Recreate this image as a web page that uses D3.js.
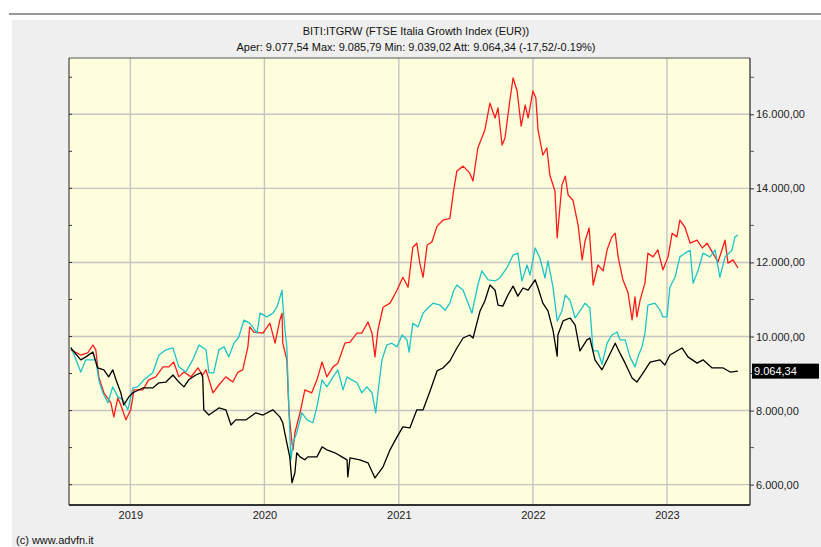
<!DOCTYPE html>
<html>
<head>
<meta charset="utf-8">
<script src="https://cdn.jsdelivr.net/npm/d3@7"></script>
<style>
  body { margin: 0; background: #fff; }
  svg { display: block; font-family: "Liberation Sans", Arial, sans-serif; }
</style>
</head>
<body>
<div id="chart"></div>
<script>
/* global d3 */

// BITI:ITGRW, black line
var itgrw = [
  ["2018-07-23", 9690], ["2018-08-19", 9370], ["2018-09-02", 9450], ["2018-09-21", 9580], ["2018-10-04", 9150],
  ["2018-10-21", 9100], ["2018-11-03", 8910], ["2018-11-14", 9100], ["2018-11-23", 8830], ["2018-12-06", 8480],
  ["2018-12-14", 8150], ["2018-12-28", 8370], ["2019-01-08", 8480], ["2019-02-04", 8610], ["2019-03-03", 8610],
  ["2019-03-20", 8750], ["2019-04-08", 8770], ["2019-04-27", 8960], ["2019-05-13", 8770], ["2019-05-27", 8640],
  ["2019-06-09", 8830], ["2019-06-28", 8960], ["2019-07-12", 9020], ["2019-07-17", 8910], ["2019-07-20", 8020],
  ["2019-08-03", 7880], ["2019-08-30", 8070], ["2019-09-18", 8020], ["2019-10-02", 7610], ["2019-10-15", 7750],
  ["2019-11-12", 7750], ["2019-12-09", 7940], ["2019-12-28", 7880], ["2020-01-24", 8020], ["2020-02-12", 7830],
  ["2020-02-20", 7670], ["2020-03-02", 7130], ["2020-03-10", 6750], ["2020-03-16", 6050], ["2020-03-24", 6320],
  ["2020-03-29", 6860], ["2020-04-07", 6750], ["2020-04-20", 6670], ["2020-04-28", 6750], ["2020-05-23", 6750],
  ["2020-06-06", 7020], ["2020-06-19", 6940], ["2020-07-11", 6860], ["2020-07-30", 6750], ["2020-08-13", 6670],
  ["2020-08-15", 6210], ["2020-08-21", 6720], ["2020-09-17", 6670], ["2020-10-09", 6590], ["2020-10-28", 6180],
  ["2020-11-19", 6480], ["2020-12-08", 6940], ["2020-12-27", 7290], ["2021-01-12", 7560], ["2021-01-31", 7530],
  ["2021-02-19", 8020], ["2021-03-08", 8020], ["2021-03-27", 8530], ["2021-04-15", 9070], ["2021-05-01", 9150],
  ["2021-05-20", 9340], ["2021-06-08", 9690], ["2021-06-25", 9960], ["2021-07-13", 10040], ["2021-07-22", 9960],
  ["2021-08-10", 10690], ["2021-08-23", 10960], ["2021-09-06", 11390], ["2021-09-20", 11250], ["2021-09-28", 10850],
  ["2021-10-11", 10820], ["2021-10-25", 11120], ["2021-11-08", 11360], ["2021-11-21", 11090], ["2021-12-05", 11310],
  ["2021-12-19", 11250], ["2022-01-07", 11530], ["2022-01-15", 11310], ["2022-01-28", 10900], ["2022-02-11", 10690],
  ["2022-02-25", 10150], ["2022-03-08", 9470], ["2022-03-10", 10040], ["2022-03-24", 10420], ["2022-04-12", 10500],
  ["2022-04-26", 10310], ["2022-05-09", 9610], ["2022-05-28", 9910], ["2022-06-05", 9960], ["2022-06-19", 9370],
  ["2022-07-08", 9100], ["2022-07-22", 9370], ["2022-08-13", 9820], ["2022-08-26", 9550], ["2022-09-09", 9280],
  ["2022-09-28", 8880], ["2022-10-11", 8770], ["2022-10-28", 9020], ["2022-11-16", 9310], ["2022-12-13", 9370],
  ["2022-12-26", 9230], ["2023-01-09", 9500], ["2023-02-11", 9690], ["2023-02-27", 9450], ["2023-03-24", 9280],
  ["2023-04-09", 9370], ["2023-05-04", 9150], ["2023-06-03", 9150], ["2023-06-22", 9040], ["2023-07-13", 9064.34]
];

// comparison, red line
var compRed = [
  ["2018-07-23", 9640], ["2018-08-19", 9500], ["2018-09-07", 9560], ["2018-09-21", 9770], ["2018-09-29", 9640],
  ["2018-10-07", 8910], ["2018-10-21", 8480], ["2018-11-09", 8210], ["2018-11-17", 7830], ["2018-11-28", 8340],
  ["2018-12-06", 8150], ["2018-12-20", 7750], ["2019-01-02", 8020], ["2019-01-11", 8560], ["2019-02-04", 8560],
  ["2019-02-20", 8830], ["2019-03-11", 8910], ["2019-03-31", 9180], ["2019-04-16", 9180], ["2019-04-29", 9310],
  ["2019-05-13", 8910], ["2019-05-27", 9040], ["2019-06-15", 8910], ["2019-07-04", 9150], ["2019-07-17", 8960],
  ["2019-07-26", 9100], ["2019-08-14", 8480], ["2019-08-30", 8690], ["2019-09-18", 8910], ["2019-10-07", 8770],
  ["2019-10-21", 9040], ["2019-11-03", 9100], ["2019-11-17", 9720], ["2019-11-22", 10260], ["2019-12-03", 10120],
  ["2019-12-28", 10090], ["2020-01-16", 10360], ["2020-01-30", 9820], ["2020-02-12", 10440], ["2020-02-18", 10630],
  ["2020-02-20", 9820], ["2020-03-02", 9370], ["2020-03-08", 7940], ["2020-03-16", 7130], ["2020-03-19", 6940],
  ["2020-03-24", 7400], ["2020-04-07", 7940], ["2020-04-20", 8560], ["2020-05-09", 8480], ["2020-05-23", 8830],
  ["2020-06-06", 9310], ["2020-06-19", 8910], ["2020-07-06", 9180], ["2020-07-19", 9280], ["2020-08-07", 9820],
  ["2020-08-21", 9850], ["2020-09-09", 10090], ["2020-09-22", 10090], ["2020-10-09", 10390], ["2020-10-20", 10090],
  ["2020-10-28", 9450], ["2020-11-05", 10170], ["2020-11-19", 10790], ["2020-12-08", 10900], ["2020-12-27", 11250],
  ["2021-01-12", 11600], ["2021-01-26", 11330], ["2021-02-08", 12410], ["2021-02-19", 12520], ["2021-02-27", 11980],
  ["2021-03-08", 11600], ["2021-03-19", 12470], ["2021-04-01", 12550], ["2021-04-15", 12980], ["2021-05-01", 13140],
  ["2021-05-20", 13190], ["2021-05-30", 13930], ["2021-06-08", 14470], ["2021-06-25", 14600], ["2021-07-13", 14410],
  ["2021-07-22", 14200], ["2021-08-04", 15090], ["2021-08-23", 15570], ["2021-09-06", 16300], ["2021-09-20", 15900],
  ["2021-09-28", 16170], ["2021-10-09", 15170], ["2021-10-17", 15360], ["2021-10-30", 16360], ["2021-11-08", 16980],
  ["2021-11-19", 16630], ["2021-11-30", 15680], ["2021-12-11", 16250], ["2021-12-19", 15900], ["2022-01-01", 16630],
  ["2022-01-09", 16440], ["2022-01-15", 15570], ["2022-01-28", 14900], ["2022-02-08", 15090], ["2022-02-16", 14360],
  ["2022-03-02", 13930], ["2022-03-08", 12660], ["2022-03-21", 14090], ["2022-03-30", 14330], ["2022-04-07", 13820],
  ["2022-04-20", 13680], ["2022-05-04", 13010], ["2022-05-15", 12070], ["2022-05-23", 12580], ["2022-06-03", 12930],
  ["2022-06-14", 11390], ["2022-06-27", 11930], ["2022-07-11", 11770], ["2022-07-22", 12340], ["2022-08-04", 12690],
  ["2022-08-13", 12790], ["2022-08-21", 12150], ["2022-09-03", 11530], ["2022-09-17", 11180], ["2022-09-28", 10450],
  ["2022-10-06", 11070], ["2022-10-11", 10530], ["2022-10-20", 10990], ["2022-11-02", 11440], ["2022-11-10", 12250],
  ["2022-11-24", 12150], ["2022-12-07", 12340], ["2022-12-21", 11800], ["2023-01-04", 12150], ["2023-01-15", 12790],
  ["2023-01-28", 12690], ["2023-02-05", 13140], ["2023-02-19", 12950], ["2023-03-05", 12520], ["2023-03-24", 12600],
  ["2023-04-07", 12390], ["2023-04-20", 12520], ["2023-05-06", 12250], ["2023-05-20", 12010], ["2023-06-08", 12600],
  ["2023-06-16", 11980], ["2023-06-30", 12070], ["2023-07-13", 11850]
];

// comparison, cyan line
var compCyan = [
  ["2018-07-23", 9720], ["2018-08-06", 9370], ["2018-08-19", 9040], ["2018-09-02", 9370], ["2018-09-15", 9370],
  ["2018-09-29", 9370], ["2018-10-07", 8830], ["2018-10-18", 8480], ["2018-11-01", 8210], ["2018-11-14", 8640],
  ["2018-11-28", 8370], ["2018-12-12", 8290], ["2018-12-25", 8020], ["2019-01-08", 8610], ["2019-01-21", 8640],
  ["2019-02-07", 8830], ["2019-03-03", 9020], ["2019-03-20", 9500], ["2019-04-08", 9640], ["2019-04-27", 9690],
  ["2019-05-13", 9180], ["2019-06-01", 9040], ["2019-06-20", 9370], ["2019-07-07", 9770], ["2019-07-26", 9640],
  ["2019-08-03", 9020], ["2019-08-16", 9020], ["2019-08-30", 9640], ["2019-09-13", 9720], ["2019-09-26", 9450],
  ["2019-10-10", 9820], ["2019-10-23", 9980], ["2019-11-06", 10440], ["2019-11-22", 10360], ["2019-12-12", 10090],
  ["2019-12-20", 10630], ["2020-01-08", 10530], ["2020-01-24", 10630], ["2020-02-04", 10790], ["2020-02-18", 11250],
  ["2020-02-20", 10900], ["2020-02-26", 10170], ["2020-03-02", 9720], ["2020-03-08", 7940], ["2020-03-13", 6670],
  ["2020-03-19", 7130], ["2020-03-29", 7400], ["2020-04-12", 7940], ["2020-04-26", 7750], ["2020-05-12", 7670],
  ["2020-05-23", 8100], ["2020-06-06", 8830], ["2020-06-19", 8640], ["2020-07-06", 8910], ["2020-07-19", 9100],
  ["2020-08-02", 8560], ["2020-08-13", 8910], ["2020-08-26", 8830], ["2020-09-09", 8750], ["2020-09-22", 8480],
  ["2020-10-06", 8640], ["2020-10-20", 8480], ["2020-10-30", 7940], ["2020-11-05", 8480], ["2020-11-16", 9370],
  ["2020-11-29", 9770], ["2020-12-13", 9820], ["2020-12-27", 9720], ["2021-01-10", 10040], ["2021-01-23", 9910],
  ["2021-01-29", 9580], ["2021-02-08", 10360], ["2021-02-22", 10260], ["2021-03-08", 10630], ["2021-03-21", 10770],
  ["2021-04-04", 10900], ["2021-04-23", 10850], ["2021-05-07", 10710], ["2021-05-20", 10900], ["2021-05-30", 11230],
  ["2021-06-08", 11390], ["2021-06-25", 11250], ["2021-07-19", 10630], ["2021-08-04", 11390], ["2021-08-15", 11770],
  ["2021-09-01", 11530], ["2021-09-20", 11500], ["2021-10-03", 11580], ["2021-10-22", 11850], ["2021-11-08", 12200],
  ["2021-11-21", 12250], ["2021-12-02", 11500], ["2021-12-16", 11930], ["2021-12-24", 11660], ["2022-01-07", 12390],
  ["2022-01-20", 12120], ["2022-02-03", 11580], ["2022-02-11", 12040], ["2022-02-25", 11310], ["2022-03-08", 10420],
  ["2022-03-21", 10690], ["2022-03-30", 11120], ["2022-04-12", 10980], ["2022-04-26", 10500], ["2022-05-09", 10690],
  ["2022-05-23", 10900], ["2022-06-05", 10770], ["2022-06-14", 9610], ["2022-06-27", 9610], ["2022-07-08", 9250],
  ["2022-07-22", 9820], ["2022-08-04", 10040], ["2022-08-18", 10120], ["2022-08-26", 9910], ["2022-09-09", 9910],
  ["2022-09-22", 9450], ["2022-10-06", 9180], ["2022-10-14", 9450], ["2022-10-25", 9720], ["2022-11-02", 10090],
  ["2022-11-10", 10850], ["2022-11-29", 10900], ["2022-12-13", 10710], ["2022-12-21", 10530], ["2023-01-01", 10530],
  ["2023-01-09", 11340], ["2023-01-23", 11600], ["2023-02-05", 12150], ["2023-02-19", 12250], ["2023-03-05", 12330],
  ["2023-03-13", 11440], ["2023-03-27", 11790], ["2023-04-09", 12250], ["2023-04-28", 12150], ["2023-05-12", 12330],
  ["2023-05-25", 11600], ["2023-06-08", 12150], ["2023-06-27", 12330], ["2023-07-05", 12690], ["2023-07-13", 12740]
];

var yearTicks = ["2019-01-01", "2020-01-01", "2021-01-01", "2022-01-01", "2023-01-01"];
var priceTicks = [6000, 8000, 10000, 12000, 14000, 16000];
var minorTicks = [6000, 7000, 8000, 9000, 10000, 11000, 12000, 13000, 14000, 15000, 16000, 17000];
var xDomain = ["2018-07-18", "2023-08-15"];
var yDomain = [5450, 17520];

var titleText = "BITI:ITGRW (FTSE Italia Growth Index (EUR))";
var statNames = ["Aper", "Max", "Min", "Att"];
var statValues = [9077.54, 9085.79, 9039.02, 9064.34];
var changeAbs = -17.52;
var changePct = -0.19;
var lastValue = 9064.34;

var WIDTH = 821, HEIGHT = 547;
var plot = { left: 69, top: 58, right: 750, bottom: 505 };

var itFmt = d3.formatLocale({ decimal: ",", thousands: ".", grouping: [3], currency: ["", ""], minus: "-" }).format(",.2f");
var pctFmt = d3.formatLocale({ decimal: ".", thousands: ",", grouping: [3], currency: ["", ""], minus: "-" }).format(".2f");
var parse = d3.utcParse("%Y-%m-%d");

var x = d3.scaleUtc().domain(xDomain.map(parse)).range([plot.left, plot.right]);
var y = d3.scaleLinear().domain(yDomain).range([plot.bottom, plot.top]);

var svg = d3.select('#chart').append('svg')
  .attr('width', WIDTH)
  .attr('height', HEIGHT);

// page frame
svg.append('rect').attr('x', 12).attr('y', 20).attr('width', WIDTH - 12).attr('height', HEIGHT - 20).attr('fill', '#efefef');
svg.append('rect').attr('x', 9).attr('y', 13).attr('width', WIDTH - 9).attr('height', 2).attr('fill', '#9a9a9a');

// titles
svg.append('text')
  .attr('x', 416).attr('y', 35)
  .attr('text-anchor', 'middle')
  .attr('font-size', '11px')
  .attr('fill', '#111')
  .text(titleText);

var statLine = statNames.map(function(n, i) { return n + ': ' + itFmt(statValues[i]); }).join(' ') +
  ' (' + itFmt(changeAbs) + '/' + pctFmt(changePct) + '%)';
svg.append('text')
  .attr('x', 416).attr('y', 51)
  .attr('text-anchor', 'middle')
  .attr('font-size', '11px')
  .attr('fill', '#111')
  .text(statLine);

// plot background
svg.append('rect')
  .attr('x', plot.left).attr('y', plot.top)
  .attr('width', plot.right - plot.left).attr('height', plot.bottom - plot.top)
  .attr('fill', '#fefedc');

// grid
var grid = svg.append('g').attr('stroke', '#c4c4c4').attr('stroke-width', 1.4);
grid.selectAll('line.h').data(priceTicks).enter().append('line')
  .attr('x1', plot.left).attr('x2', plot.right)
  .attr('y1', function(d) { return y(d); }).attr('y2', function(d) { return y(d); });
grid.selectAll('line.v').data(yearTicks.map(parse)).enter().append('line')
  .attr('y1', plot.top).attr('y2', plot.bottom)
  .attr('x1', function(d) { return x(d); }).attr('x2', function(d) { return x(d); });

// lines
svg.append('clipPath').attr('id', 'clip').append('rect')
  .attr('x', plot.left).attr('y', plot.top)
  .attr('width', plot.right - plot.left).attr('height', plot.bottom - plot.top);

var line = d3.line()
  .x(function(d) { return x(parse(d[0])); })
  .y(function(d) { return y(d[1]); });

var series = [
  { data: compRed, color: '#ff1a1a' },
  { data: compCyan, color: '#1cc4c8' },
  { data: itgrw, color: '#000000' }
];

svg.append('g').attr('clip-path', 'url(#clip)')
  .selectAll('path').data(series).enter().append('path')
  .attr('d', function(s) { return line(s.data); })
  .attr('fill', 'none')
  .attr('stroke', function(s) { return s.color; })
  .attr('stroke-width', 1.3)
  .attr('stroke-linejoin', 'round');

// frame lines
svg.append('line').attr('x1', plot.left).attr('x2', plot.right).attr('y1', plot.top).attr('y2', plot.top)
  .attr('stroke', '#555').attr('stroke-width', 1.2);
svg.append('line').attr('x1', plot.left).attr('x2', plot.left).attr('y1', plot.top).attr('y2', plot.bottom)
  .attr('stroke', '#444').attr('stroke-width', 1.2);
svg.append('line').attr('x1', plot.left).attr('x2', plot.right).attr('y1', plot.bottom).attr('y2', plot.bottom)
  .attr('stroke', '#333').attr('stroke-width', 2);

// left inner ticks
svg.append('g').selectAll('line').data(minorTicks.filter(function(d) { return y(d) > plot.top; })).enter().append('line')
  .attr('x1', plot.left).attr('x2', plot.left + 3)
  .attr('y1', function(d) { return y(d); }).attr('y2', function(d) { return y(d); })
  .attr('stroke', '#333');

// right axis
var yAxis = svg.append('g')
  .attr('transform', 'translate(' + plot.right + ',0)')
  .call(d3.axisRight(y).tickValues(priceTicks).tickFormat(itFmt).tickSize(4).tickPadding(2));
yAxis.select('.domain').attr('stroke', '#222').attr('stroke-width', 1.2).attr('d', 'M0,' + plot.top + 'V' + plot.bottom);
yAxis.selectAll('text').attr('font-size', '11px').attr('fill', '#222').attr('font-family', '"Liberation Sans", Arial, sans-serif');
yAxis.selectAll('line').attr('stroke', '#333');
yAxis.selectAll('line.minor').data(minorTicks.filter(function(d) { return priceTicks.indexOf(d) < 0 && y(d) > plot.top; }))
  .enter().append('line').attr('class', 'minor')
  .attr('x1', 0).attr('x2', 4)
  .attr('y1', function(d) { return y(d); }).attr('y2', function(d) { return y(d); })
  .attr('stroke', '#555');

// bottom axis labels
var xAxis = svg.append('g')
  .attr('transform', 'translate(0,' + plot.bottom + ')')
  .call(d3.axisBottom(x).tickValues(yearTicks.map(parse)).tickFormat(d3.utcFormat('%Y')).tickSize(0).tickPadding(6));
xAxis.select('.domain').remove();
xAxis.selectAll('text').attr('font-size', '11px').attr('fill', '#222').attr('font-family', '"Liberation Sans", Arial, sans-serif');

// last value marker
var lastY = y(lastValue);
svg.append('rect')
  .attr('x', plot.right + 2).attr('y', lastY - 7.5)
  .attr('width', 67).attr('height', 15)
  .attr('fill', '#000');
svg.append('text')
  .attr('x', plot.right + 4).attr('y', lastY + 4)
  .attr('font-size', '11px')
  .attr('fill', '#fff')
  .text(itFmt(lastValue));

// credit
svg.append('text')
  .attr('x', 16).attr('y', 544)
  .attr('font-size', '11px')
  .attr('fill', '#111')
  .text('(c) www.advfn.it');
</script>
</body>
</html>
